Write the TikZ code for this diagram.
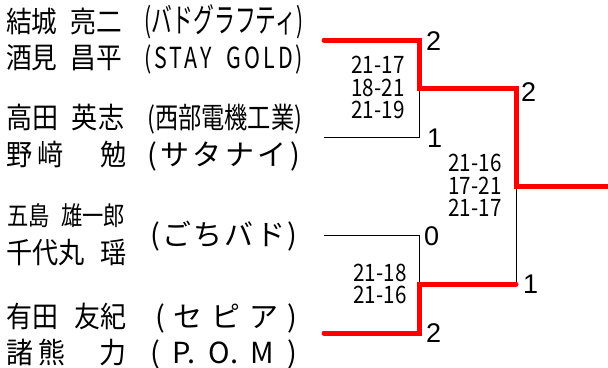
\documentclass[tikz,border=0pt]{standalone}
\usepackage{fontspec}
\usepackage{graphicx}
\setmainfont{Noto Sans CJK JP}
\newfontfamily\jpfont{Noto Sans CJK JP}
\newfontfamily\numfont{Liberation Sans}
\newfontfamily\spacedfont[LetterSpace=14]{Noto Sans CJK JP}
\newcommand\scoreline[1]{\resizebox{53pt}{\height}{#1}}
\newcommand\namefit[2]{\resizebox{#1}{\height}{#2}}
\begin{document}
\begin{tikzpicture}[x=1pt,y=-1pt,
  player/.style={anchor=base west, inner sep=0pt, font=\jpfont\fontsize{29}{29}\selectfont},
  smallplayer/.style={anchor=base west, inner sep=0pt, font=\jpfont\fontsize{26}{26}\selectfont},
  club/.style={anchor=base west, inner sep=0pt, font=\jpfont\fontsize{29}{29}\selectfont},
  games/.style={anchor=center, inner sep=0pt, align=center, font=\jpfont\fontsize{24}{22.5}\selectfont},
  result/.style={anchor=west, inner sep=0pt, font=\numfont\fontsize{27}{27}\selectfont},
  winline/.style={red, line width=5pt, line cap=round, line join=miter},
  loseline/.style={black, line width=0.8pt}]
\useasboundingbox (0,0) rectangle (608,367);

% players
\node[player] (p1a) at (6,32.5) {\namefit{116pt}{結城\hspace{15pt}亮二}};
\node[player] (p1b) at (6,68.5) {\namefit{116pt}{酒見\hspace{15pt}昌平}};
\node[club] (c1a) at (144,32.5) {\resizebox{159pt}{1.15\height}{(バドグラフティ)}};
\node[club] (c1b) at (144,68.5) {\resizebox{159pt}{\height}{\spacedfont(STAY\hspace{10pt} GOLD)}};

\node[player] (p2a) at (6,128.5) {\namefit{118pt}{高田\hspace{15pt}英志}};
\node[player] (p2b) at (6,165.5) {\namefit{120pt}{野\hspace{6pt}﨑\hspace{40pt}勉}};
\node[club] (c2a) at (147,128.5) {\resizebox{155pt}{\height}{(西部電機工業)}};
\node[club] (c2b) at (147,165.5) {\makebox[153pt][s]{(\hfill サ\hfill タ\hfill ナ\hfill イ\hfill )}};

\node[smallplayer] (p3a) at (7,225) {\namefit{118pt}{五島\hspace{14pt}雄一郎}};
\node[player] (p3b) at (6,263.5) {\namefit{120pt}{千代丸\hspace{17pt}瑶}};
\node[club] (c3) at (150,245) {\makebox[147pt][s]{(\hfill ご\hfill ち\hfill バ\hfill ド\hfill )}};

\node[player] (p4a) at (6,327.5) {\namefit{120pt}{有田\hspace{18pt}友紀}};
\node[player] (p4b) at (6,363.5) {\namefit{120pt}{諸\hspace{6pt}熊\hspace{36pt}力}};
\node[club] (c4a) at (155,327.5) {\makebox[142pt][s]{(\hfill セ\hfill ピ\hfill ア\hfill )}};
\node[club] (c4b) at (150,363.5) {\makebox[147pt][s]{(\hfill P.\hfill O.\hfill M\hfill )}};

% bracket corner points
\coordinate (e1) at (324,40);
\coordinate (k1) at (419,40);
\coordinate (m1) at (419,88);
\coordinate (e2) at (324,137);
\coordinate (k2) at (419,137);
\coordinate (e3) at (324,235);
\coordinate (k3) at (419,235);
\coordinate (m2) at (419,284);
\coordinate (e4) at (324,333);
\coordinate (k4) at (419,333);
\coordinate (f1) at (516,88);
\coordinate (g) at (516,186);
\coordinate (f2) at (516,284);
\coordinate (champ) at (608,186);

% losing lines
\draw[loseline] (e2) -- (k2) -- (m1);
\draw[loseline] (e3) -- (k3) -- (m2);
\draw[loseline] (f2) -- (g);

% winning lines
\draw[winline] (e1) -- (k1) -- (m1) -- (f1) -- (g) -- ([xshift=3pt]champ);
\draw[winline] (e4) -- (k4) -- (m2) -- (f2);

% game scores
\node[games] (s1) at (378,87.5) {\scoreline{21-17}\\\scoreline{18-21}\\\scoreline{21-19}};
\node[games] (s2) at (475,185.5) {\scoreline{21-16}\\\scoreline{17-21}\\\scoreline{21-17}};
\node[games] (s3) at (380,284) {\scoreline{21-18}\\\scoreline{21-16}};

% match results
\node[result] (r1) at (426,41) {2};
\node[result] (r2) at (427,138) {1};
\node[result] (r3) at (521,92) {2};
\node[result] (r4) at (424,236) {0};
\node[result] (r5) at (523,284) {1};
\node[result] (r6) at (426,333) {2};
\end{tikzpicture}
\end{document}
